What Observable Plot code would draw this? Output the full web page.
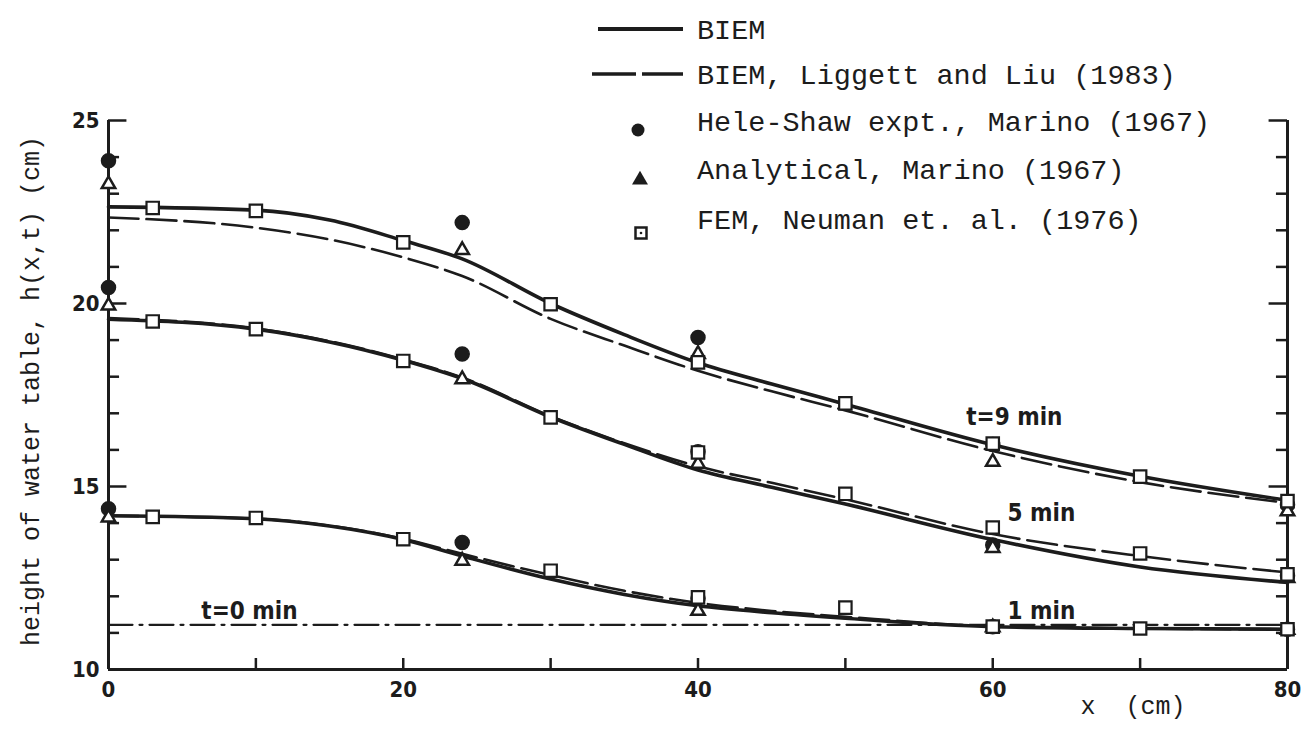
<!DOCTYPE html>
<html>
<head>
<meta charset="utf-8">
<script src="https://cdn.jsdelivr.net/npm/d3@7"></script>
<script src="https://cdn.jsdelivr.net/npm/@observablehq/plot@0.6"></script>
<style>
  body { margin: 0; background: #fff; }
  #wrap { position: relative; width: 1305px; height: 743px; overflow: hidden; }
  #wrap svg { position: absolute; left: 0; top: 0; }
</style>
</head>
<body>
<div id="wrap"></div>
<script>
// ---------- data ----------
// x positions (cm) where the computed curves were read
const lineX = [0, 10, 15, 20, 24, 30, 35, 40, 45, 50, 60, 70, 80];
// BIEM (solid)
const biem9 = [22.64, 22.55, 22.28, 21.72, 21.22, 20.0, 19.15, 18.38, 17.8, 17.25, 16.14, 15.28, 14.62];
const biem5 = [19.57, 19.3, 18.95, 18.45, 17.95, 16.9, 16.15, 15.45, 14.98, 14.52, 13.55, 12.8, 12.38];
const biem1 = [14.2, 14.12, 13.92, 13.55, 13.1, 12.47, 12.05, 11.74, 11.55, 11.4, 11.17, 11.12, 11.1];
// BIEM, Liggett and Liu (1983) (dashed)
const liggett9 = [22.35, 22.07, 21.75, 21.26, 20.75, 19.58, 18.85, 18.16, 17.6, 17.08, 15.97, 15.12, 14.55];
const liggett5 = [19.6, 19.32, 18.97, 18.47, 17.98, 16.92, 16.18, 15.55, 15.1, 14.65, 13.7, 13.1, 12.65];
const liggett1 = [14.2, 14.12, 13.93, 13.57, 13.16, 12.58, 12.15, 11.82, 11.6, 11.44, 11.18, 11.12, 11.1];
// initial water table t = 0 (dash-dot)
const t0X = [0, 80];
const t0H = [11.22, 11.22];
// Hele-Shaw expt., Marino (1967) (filled circles)
const heleX = [0, 24, 40, 60, 80];
const hele9 = [23.9, 22.21, 19.07, 16.15, 14.5];
const hele5 = [20.44, 18.62, 15.95, 13.4, 12.56];
const hele1 = [14.39, 13.47, 11.95, 11.17, 11.1];
// Analytical, Marino (1967) (triangles)
const anaX = [0, 24, 40, 60, 80];
const ana9 = [23.26, 21.46, 18.62, 15.67, 14.32];
const ana5 = [19.94, 17.93, 15.62, 13.32, 12.5];
const ana1 = [14.15, 12.97, 11.6, 11.15, 11.08];
// FEM, Neuman et. al. (1976) (open squares)
const femX = [3, 10, 20, 30, 40, 50, 60, 70, 80];
const fem9 = [22.61, 22.53, 21.67, 19.98, 18.39, 17.27, 16.17, 15.27, 14.6];
const fem5 = [19.51, 19.3, 18.43, 16.89, 15.93, 14.8, 13.88, 13.17, 12.6];
const fem1 = [14.17, 14.14, 13.56, 12.7, 11.97, 11.69, 11.17, 11.12, 11.1];
// curve labels
const curveLabels = ["t=9 min", "5 min", "1 min", "t=0 min"];
const curveLabelX = [58.2, 61.0, 61.0, 6.3];
const curveLabelH = [16.88, 14.28, 11.6, 11.6];
// axes
const xTickLabels = [0, 20, 40, 60, 80];
const xMinorTicks = [10, 20, 30, 40, 50, 60, 70];
const yTickLabels = [10, 15, 20, 25];
const yMinorTicks = [11, 12, 13, 14, 16, 17, 18, 19, 21, 22, 23, 24];
const yMajorTicks = [15, 20, 25];
const legendLabels = ["BIEM", "BIEM, Liggett and Liu (1983)", "Hele-Shaw expt., Marino (1967)", "Analytical, Marino (1967)", "FEM, Neuman et. al. (1976)"];
const yLabel = "height of water table, h(x,t) (cm)";
const xLabel = "x  (cm)";

// ---------- build tables ----------
function rows(xs, ys, key) { return xs.map((x, i) => ({x, h: ys[i], t: key})); }
const solid = [...rows(lineX, biem9, 9), ...rows(lineX, biem5, 5), ...rows(lineX, biem1, 1)];
const dashed = [...rows(lineX, liggett9, 9), ...rows(lineX, liggett5, 5), ...rows(lineX, liggett1, 1)];
const initial = rows(t0X, t0H, 0);
const hele = [...rows(heleX, hele9, 9), ...rows(heleX, hele5, 5), ...rows(heleX, hele1, 1)];
const ana = [...rows(anaX, ana9, 9), ...rows(anaX, ana5, 5), ...rows(anaX, ana1, 1)];
const fem = [...rows(femX, fem9, 9), ...rows(femX, fem5, 5), ...rows(femX, fem1, 1)];
const labels = curveLabels.map((s, i) => ({s, x: curveLabelX[i], h: curveLabelH[i]}));

const ink = "#1c1c1c";
const sansBold = {fontFamily: "DejaVu Sans Condensed, DejaVu Sans", fontWeight: "bold"};
const mono = "Liberation Mono, DejaVu Sans Mono, monospace";

const chart = Plot.plot({
  width: 1305, height: 743,
  marginLeft: 108, marginRight: 18, marginTop: 120, marginBottom: 74,
  x: {domain: [0, 80]},
  y: {domain: [10, 25]},
  style: {background: "white", color: ink},
  marks: [
    // frame: left, right and bottom lines
    Plot.ruleX([0, 80], {y1: 10, y2: 25, stroke: ink, strokeWidth: 3}),
    Plot.ruleY([10], {x1: 0, x2: 80, stroke: ink, strokeWidth: 3}),
    // inward ticks
    Plot.ruleY(yMinorTicks, {x1: 0, x2: 0.75, stroke: ink, strokeWidth: 2.5}),
    Plot.ruleY(yMajorTicks, {x1: 0, x2: 1.25, stroke: ink, strokeWidth: 2.5}),
    Plot.ruleY(yMinorTicks, {x1: 80, x2: 79.25, stroke: ink, strokeWidth: 2.5}),
    Plot.ruleY(yMajorTicks, {x1: 80, x2: 78.75, stroke: ink, strokeWidth: 2.5}),
    Plot.ruleX(xMinorTicks, {y1: 10, y2: 10.3, stroke: ink, strokeWidth: 2.5}),
    // tick labels
    Plot.axisX(xTickLabels, {tickSize: 0, tickPadding: 12, fontSize: 22, ...sansBold, label: null}),
    Plot.axisY(yTickLabels, {tickSize: 0, tickPadding: 9, fontSize: 22, ...sansBold, label: null}),
    // axis titles
    Plot.text([yLabel], {frameAnchor: "left", dx: -78, dy: -4, rotate: -90, textAnchor: "middle", lineAnchor: "middle", fontFamily: mono, fontSize: 25, fill: ink}),
    Plot.text([xLabel], {frameAnchor: "bottom-right", dx: -102, dy: 36, textAnchor: "end", lineAnchor: "middle", fontFamily: mono, fontSize: 25, fill: ink}),
    // curves
    Plot.line(initial, {x: "x", y: "h", stroke: ink, strokeWidth: 2.2, strokeDasharray: "24,7,3,7"}),
    Plot.line(dashed, {x: "x", y: "h", z: "t", curve: "monotone-x", stroke: ink, strokeWidth: 2.6, strokeDasharray: "30,8"}),
    Plot.line(solid, {x: "x", y: "h", z: "t", curve: "monotone-x", stroke: ink, strokeWidth: 3.6}),
    // data points
    Plot.dot(hele, {x: "x", y: "h", r: 7, fill: ink, stroke: ink}),
    Plot.dot(ana, {x: "x", y: "h", symbol: "triangle", r: 5, fill: "white", stroke: ink, strokeWidth: 2.5}),
    Plot.dot(fem, {x: "x", y: "h", symbol: "square", r: 7, fill: "white", stroke: ink, strokeWidth: 2.2}),
    // curve labels
    Plot.text(labels, {x: "x", y: "h", text: "s", textAnchor: "start", fontSize: 24, ...sansBold, fill: ink})
  ]
});
document.getElementById("wrap").appendChild(chart);

// ---------- legend (upper middle, overlapping the top of the frame) ----------
const svg = d3.select(chart);
const lg = svg.append("g").attr("class", "legend").attr("text-anchor", "start");
const rowY = [29, 74, 121, 169, 219];
const textX = 697;
lg.append("line").attr("x1", 598).attr("x2", 683).attr("y1", rowY[0]).attr("y2", rowY[0])
  .attr("stroke", ink).attr("stroke-width", 4);
lg.append("line").attr("x1", 592).attr("x2", 683).attr("y1", rowY[1]).attr("y2", rowY[1])
  .attr("stroke", ink).attr("stroke-width", 3.5).attr("stroke-dasharray", "44,6");
lg.append("circle").attr("cx", 638).attr("cy", rowY[2] + 9).attr("r", 6.5).attr("fill", ink);
lg.append("path").attr("d", d3.symbol(d3.symbolTriangle, 110)()).attr("transform", `translate(640,${rowY[3] + 11})`).attr("fill", ink);
lg.append("rect").attr("x", 635.5).attr("y", rowY[4] + 8.5).attr("width", 11).attr("height", 11)
  .attr("fill", "white").attr("stroke", ink).attr("stroke-width", 2.5);
lg.append("circle").attr("cx", 641).attr("cy", rowY[4] + 14).attr("r", 1.3).attr("fill", ink);
lg.selectAll("text").data(legendLabels).join("text")
  .attr("x", textX).attr("y", (d, i) => rowY[i]).attr("dy", "0.35em")
  .attr("text-anchor", "start")
  .attr("font-family", mono).attr("font-size", 28.5).attr("fill", ink)
  .text(d => d);
</script>
</body>
</html>
